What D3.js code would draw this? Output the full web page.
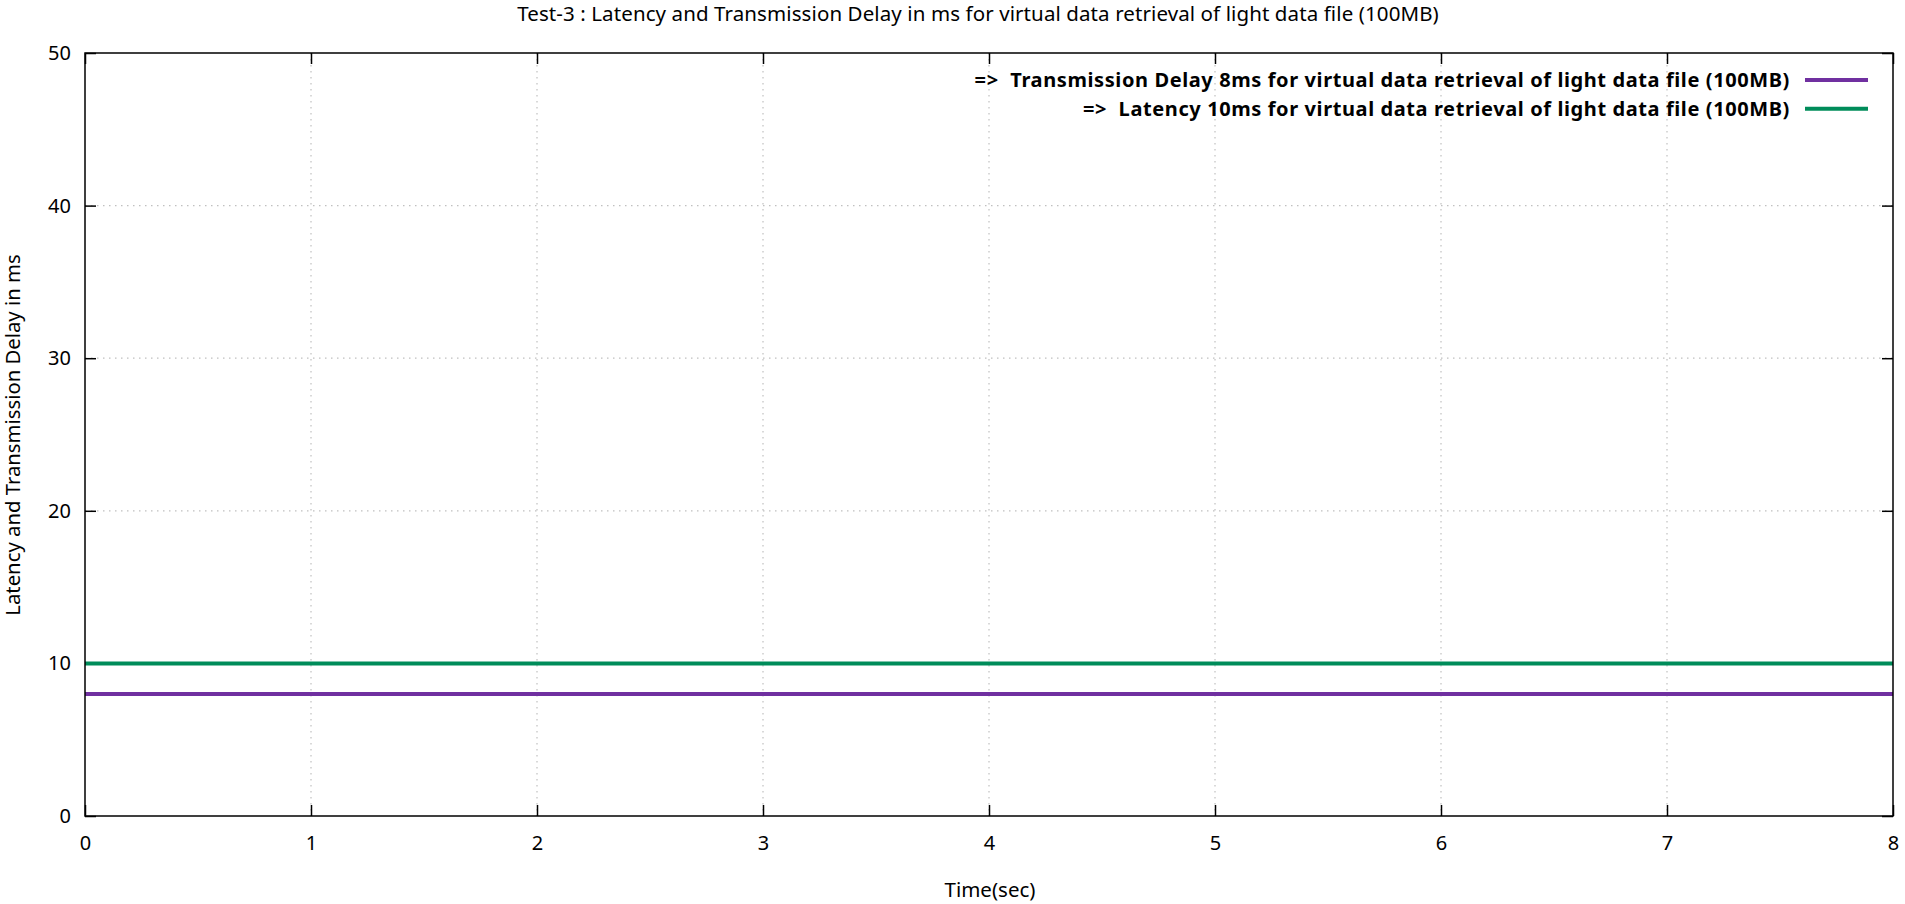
<!DOCTYPE html>
<html><head><meta charset="utf-8">
<script src="https://cdn.jsdelivr.net/npm/d3@7"></script>
<style>body{margin:0;background:#fff;} svg{display:block;font-family:"Noto Sans","Open Sans",sans-serif;} text{white-space:pre;}</style>
</head><body>
<svg id="c" width="1905" height="904"></svg>
<script>
const titleText = "Test-3 : Latency and Transmission Delay in ms for virtual data retrieval of light data file (100MB)";
const xLabel = "Time(sec)";
const yLabel = "Latency and Transmission Delay in ms";
const xTicks = [0,1,2,3,4,5,6,7,8];
const yTicks = [0,10,20,30,40,50];
const seriesNames = ["=>  Transmission Delay 8ms for virtual data retrieval of light data file (100MB)",
                     "=>  Latency 10ms for virtual data retrieval of light data file (100MB)"];
const seriesColors = ["#7030a0","#008c5a"];
const timeSec = [0,1,2,3,4,5,6,7,8];
const transmissionDelay = [8,8,8,8,8,8,8,8,8];
const latency = [10,10,10,10,10,10,10,10,10];

const svg = d3.select("#c");
const L=85, R=1893, T=53, B=816;
const x = d3.scaleLinear().domain([0,8]).range([L,R]);
const y = d3.scaleLinear().domain([0,50]).range([B,T]);

// grid
const g = svg.append("g");
g.selectAll("line.gx").data(xTicks.filter(d=>d>0&&d<8)).join("line")
 .attr("x1",d=>x(d)).attr("x2",d=>x(d)).attr("y1",T).attr("y2",B)
 .attr("stroke","#c0c0c0").attr("stroke-width",1.2).attr("stroke-dasharray","1.5,4.5");
g.selectAll("line.gy").data(yTicks.filter(d=>d>0&&d<50)).join("line")
 .attr("y1",d=>y(d)).attr("y2",d=>y(d)).attr("x1",L).attr("x2",R)
 .attr("stroke","#c0c0c0").attr("stroke-width",1.2).attr("stroke-dasharray","1.5,4.5");

// axes with inward ticks
const tk = 11;
const ax = svg.append("g").attr("transform",`translate(0,${B})`).call(d3.axisBottom(x).tickValues(xTicks).tickSize(-tk).tickPadding(20).tickFormat(d3.format("d")));
const axT = svg.append("g").attr("transform",`translate(0,${T})`).call(d3.axisTop(x).tickValues(xTicks).tickSize(-tk).tickFormat(""));
const ay = svg.append("g").attr("transform",`translate(${L},0)`).call(d3.axisLeft(y).tickValues(yTicks).tickSize(-tk).tickPadding(14).tickFormat(d3.format("d")));
const ayR = svg.append("g").attr("transform",`translate(${R},0)`).call(d3.axisRight(y).tickValues(yTicks).tickSize(-tk).tickFormat(""));
[ax,axT,ay,ayR].forEach(a=>{
  a.select(".domain").remove();
  a.selectAll("line").attr("stroke","#000").attr("stroke-width",1.5);
  a.selectAll("text").attr("font-size",20).attr("fill","#000").attr("font-family","Noto Sans, Open Sans, sans-serif");
});
ax.selectAll("text").attr("dy","0.71em");

// series
const line = d3.line().x(d=>x(d[0])).y(d=>y(d[1]));
const series = [transmissionDelay, latency];
series.forEach((s,i)=>{
  svg.append("path").datum(timeSec.map((t,j)=>[t,s[j]]))
    .attr("d",line).attr("fill","none").attr("stroke",seriesColors[i]).attr("stroke-width",4);
});

// border
svg.append("rect").attr("x",L).attr("y",T).attr("width",R-L).attr("height",B-T)
  .attr("fill","none").attr("stroke","#000").attr("stroke-width",1.5);

// legend
seriesNames.forEach((n,i)=>{
  const yy = 80 + i*28.7;
  svg.append("text").attr("x",1790).attr("y",yy).attr("dy","0.35em").attr("text-anchor","end")
    .attr("font-size",20).attr("letter-spacing",0.6).attr("font-weight","bold").text(n);
  svg.append("line").attr("x1",1805).attr("x2",1868).attr("y1",yy).attr("y2",yy)
    .attr("stroke",seriesColors[i]).attr("stroke-width",4);
});

// title and labels
svg.append("text").attr("x",978).attr("y",21).attr("text-anchor","middle").attr("font-size",20.5).attr("letter-spacing",0.1).text(titleText);
svg.append("text").attr("x",990).attr("y",897).attr("text-anchor","middle").attr("font-size",20.5).text(xLabel);
svg.append("text").attr("transform",`translate(20,435) rotate(-90)`).attr("text-anchor","middle").attr("font-size",20.3).text(yLabel);
</script>
</body></html>
